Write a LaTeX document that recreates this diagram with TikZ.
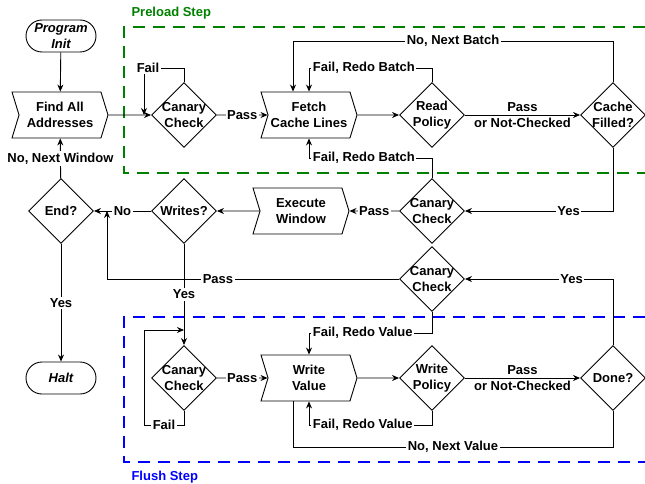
\documentclass[tikz,border=0pt]{standalone}
\usepackage{fontspec}
\setmainfont{Liberation Sans}
\usepackage{tikz}
\usetikzlibrary{positioning, arrows.meta, shapes.geometric, shapes.symbols}
\newcommand{\zw}[1]{\makebox[0pt]{#1}}

\begin{document}
\begin{tikzpicture}[x=1pt, y=-1pt,
    font=\fontsize{13}{16}\selectfont\bfseries,
    term/.style={draw, line width=0.9pt, rounded corners=16pt, minimum width=70pt, minimum height=32pt, inner sep=0pt, align=center, font=\fontsize{13}{16}\selectfont\bfseries\itshape},
    stepbox/.style={draw, line width=0.9pt, signal, signal to=east, signal from=west, signal pointer angle=146, minimum width=96pt, minimum height=46pt, inner sep=0pt, align=center},
    check/.style={draw, line width=0.9pt, diamond, minimum width=65pt, minimum height=65pt, inner sep=0pt, align=center},
    arr/.style={line width=0.9pt, -{Stealth[length=7pt, width=6pt]}},
    line/.style={line width=0.9pt},
    lbl/.style={fill=white, inner sep=1.5pt, align=center}]
    \useasboundingbox (0,0) rectangle (645,484);

    % 預載步驟
    \draw[green!50!black, line width=1.2pt, dash pattern=on 12pt off 8pt] (645,27) -- (124,27) -- (124,173) -- (645,173);
    \node[anchor=west, text=green!50!black] (preload) at (128,13) {Preload Step};

    % 寫回步驟
    \draw[blue, line width=1.2pt, dash pattern=on 12pt off 8pt] (645,317) -- (124,317) -- (124,462) -- (645,462);
    \node[anchor=west, text=blue] (flush) at (128,477) {Flush Step};

    % 節點
    \node[term] (init) at (61,36) {Program\\Init};
    \node[stepbox] (find) at (60,115) {Find All\\Addresses};
    \node[check] (cc1) at (184,115) {\zw{Canary}\\\zw{Check}};
    \node[stepbox] (fetch) at (309,115) {Fetch\\Cache Lines};
    \node[check] (rp) at (432,115) {\zw{Read}\\\zw{Policy}};
    \node[check] (cf) at (613,115) {\zw{Cache}\\\zw{Filled?}};

    \node[check] (end) at (61,211) {\zw{End?}};
    \node[check] (writes) at (184,211) {\zw{Writes?}};
    \node[stepbox] (exec) at (301,211) {Execute\\Window};
    \node[check] (cc2) at (432,211) {\zw{Canary}\\\zw{Check}};
    \node[check] (cc3) at (432,279) {\zw{Canary}\\\zw{Check}};

    \node[term] (halt) at (61,378) {Halt};
    \node[check] (cc4) at (184,378) {\zw{Canary}\\\zw{Check}};
    \node[stepbox] (wv) at (309,378) {Write\\Value};
    \node[check] (wp) at (432,378) {\zw{Write}\\\zw{Policy}};
    \node[check] (done) at (613,378) {\zw{Done?}};

    % 匯合點
    \coordinate (j1) at (144,115);
    \coordinate (j2) at (184,330);
    \coordinate (j3) at (107,211);

    % 主流程
    \draw[arr] (init) -- (find);
    \draw[arr] (find) -- (cc1);
    \draw[arr] (cc1) -- node[lbl] {Pass} (fetch);
    \draw[arr] (fetch) -- (rp);
    \draw[arr] (rp) -- node[align=center] {Pass\\or Not-Checked} (cf);
    \draw[arr] (cf.south) |- node[lbl, pos=0.65] {Yes} (cc2.east);
    \draw[arr] (cc2) -- node[lbl] {Pass} (exec);
    \draw[arr] (exec) -- (writes);
    \draw[arr] (writes) -- node[lbl] {No} (end);
    \draw[arr] (end) -- node[lbl] {No, Next Window} (find);
    \draw[arr] (end) -- node[lbl] {Yes} (halt);
    \draw[arr] (cc3.west) -| node[lbl, pos=0.31] {Pass} (j3);
    \draw[arr] (writes) -- node[lbl] {Yes} (cc4);
    \draw[arr] (cc4) -- node[lbl] {Pass} (wv);
    \draw[arr] (wv) -- (wp);
    \draw[arr] (wp) -- node[align=center] {Pass\\or Not-Checked} (done);
    \draw[arr] (done.north) |- node[lbl, pos=0.64] {Yes} (cc3.east);

    % 迴圈
    \draw[arr] (cc1.north) -- ++(0,-14) -| node[lbl, pos=0.5, xshift=4pt] {Fail} (j1);
    \draw[arr] (cf.north) -- ++(0,-41) -| node[lbl, pos=0.25] {No, Next Batch} ([xshift=-16pt]fetch.north);
    \draw[arr] (rp.north) -- ++(0,-14) -| node[lbl, pos=0.5, anchor=west, xshift=2pt] {Fail, Redo Batch} (fetch.north);
    \draw[arr] (cc2.north) -- ++(0,-20) -| node[lbl, pos=0.5, anchor=west, xshift=2pt] {Fail, Redo Batch} (fetch.south);
    \draw[arr] (cc4.south) -- ++(0,14) -- node[lbl] {Fail} ++(-40,0) |- (j2);
    \draw[arr] (cc3.south) -- ++(0,21) -| node[lbl, pos=0.5, anchor=west, xshift=2pt] {Fail, Redo Value} (wv.north);
    \draw[arr] (wp.south) -- ++(0,14) -| node[lbl, pos=0.5, anchor=west, xshift=2pt] {Fail, Redo Value} (wv.south);
    \draw[line] (done.south) -- ++(0,36) -| node[lbl, pos=0.25] {No, Next Value} ([xshift=-16pt]wv.south);
  \end{tikzpicture}
\end{document}
